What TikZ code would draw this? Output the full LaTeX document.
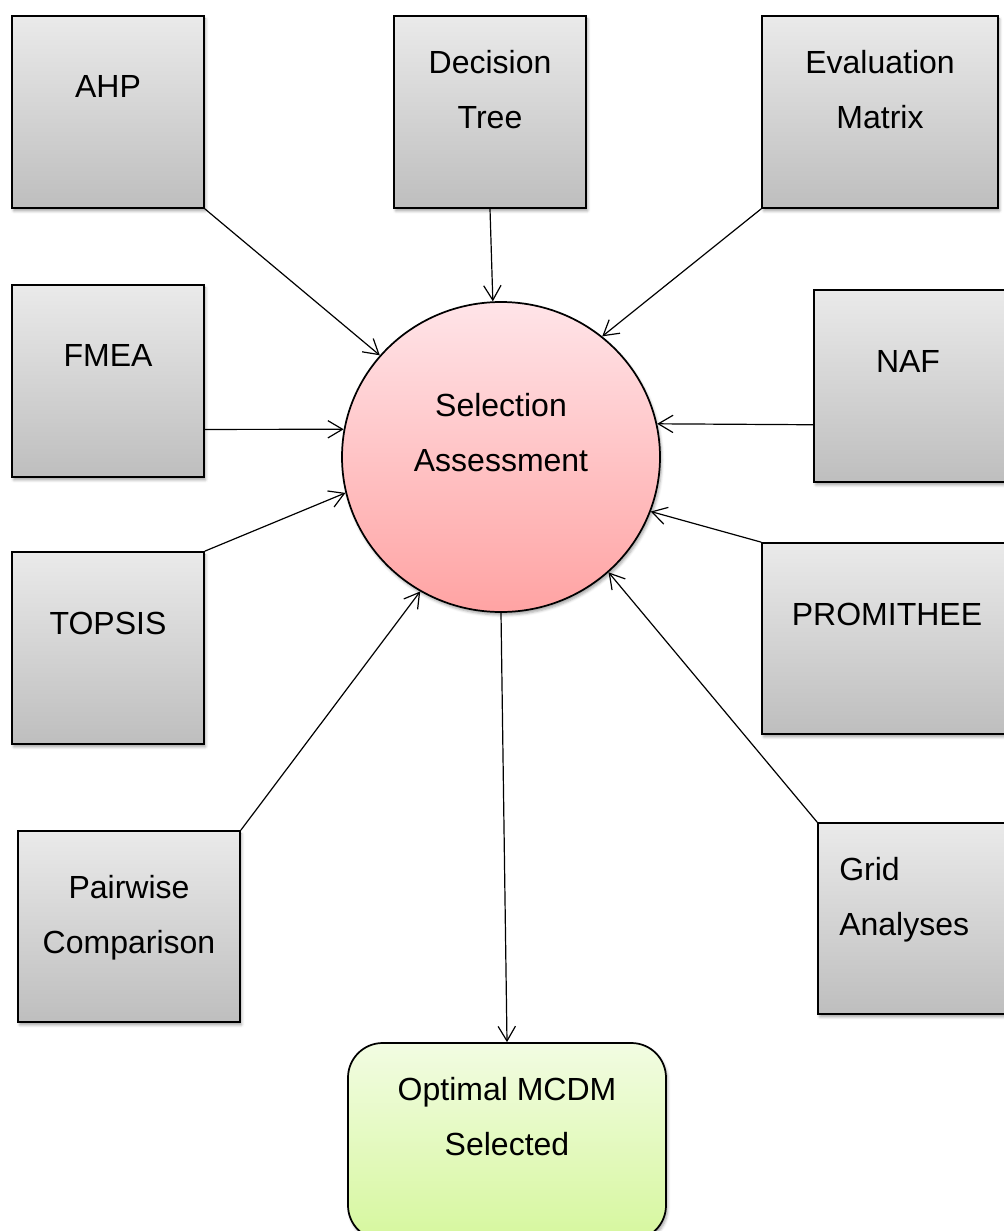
\documentclass[tikz,border=0pt]{standalone}
\usepackage{fontspec}
\setmainfont{Liberation Sans}
\usetikzlibrary{arrows.meta,shapes.geometric,shadows.blur,fit,calc}

\definecolor{boxtop}{RGB}{234,234,234}
\definecolor{boxbot}{RGB}{190,190,190}
\definecolor{seltop}{RGB}{255,228,232}
\definecolor{selbot}{RGB}{255,163,163}
\definecolor{opttop}{RGB}{242,252,226}
\definecolor{optbot}{RGB}{214,247,158}

\begin{document}
\begin{tikzpicture}[
  x=0.75pt, y=-0.75pt,
  softshadow/.style={blur shadow={shadow xshift=1.2pt, shadow yshift=-2.2pt,
      shadow blur radius=2pt, shadow opacity=35}},
  box/.style={draw=black, line width=1.3pt, inner sep=0pt,
      top color=boxtop, bottom color=boxbot, softshadow},
  selnode/.style={ellipse, draw=black, line width=1.3pt, inner sep=0pt,
      minimum width=238.5pt, minimum height=232.5pt,
      top color=seltop, bottom color=selbot, softshadow},
  optnode/.style={draw=black, line width=1.3pt, inner sep=0pt,
      rounded corners=26pt, top color=opttop, bottom color=optbot, softshadow},
  lbl/.style={font=\fontsize{24}{41.25}\selectfont, align=center,
      inner sep=0pt, anchor=north},
  conn/.style={line width=0.9pt, -{Straight Barb[length=11pt,width=13pt]}},
]
\useasboundingbox (0,0) rectangle (1003,1231);

% method boxes
\node[box, fit={(12,16) (204,208)}] (ahp) {};
\node[lbl] (ahp-t) at (108,75) {AHP};

\node[box, fit={(394,16) (586,208)}] (dt) {};
\node[lbl] (dt-t) at (490,50) {Decision\\Tree};

\node[box, fit={(762,16) (998,208)}] (em) {};
\node[lbl] (em-t) at (880,50) {Evaluation\\Matrix};

\node[box, fit={(12,285) (204,477)}] (fmea) {};
\node[lbl] (fmea-t) at (108,344) {FMEA};

\node[box, fit={(814,290) (1006,482)}] (naf) {};
\node[lbl] (naf-t) at (908,350) {NAF};

\node[box, fit={(12,552) (204,744)}] (topsis) {};
\node[lbl] (topsis-t) at (108,612) {TOPSIS};

\node[box, fit={(762,543) (1012,734)}] (prom) {};
\node[lbl] (prom-t) at (887,603) {PROMITHEE};

\node[box, fit={(18,831) (240,1022)}] (pw) {};
\node[lbl] (pw-t) at (129,875) {Pairwise\\Comparison};

\node[box, fit={(818,823) (1010,1014)}] (grid) {};
\node[lbl, anchor=north west, align=left] (grid-t) at (839,857) {Grid\\Analyses};

% central assessment
\node[selnode] (sel) at (501,457) {};
\node[lbl] (sel-t) at (501,393) {Selection\\Assessment};

% outcome
\node[optnode, fit={(348,1043) (666,1240)}] (opt) {};
\node[lbl] (opt-t) at (507,1077) {Optimal MCDM\\Selected};

% connectors
\draw[conn] (ahp.south east) -- (sel.140);
\draw[conn] (dt.south) -- (sel.93);
\draw[conn] (em.south west) -- (sel.50);
\draw[conn] ($(fmea.north east)!0.75!(fmea.south east)$) -- (sel.170);
\draw[conn] ($(naf.north west)!0.70!(naf.south west)$) -- (sel.12);
\draw[conn] (topsis.north east) -- (sel.193);
\draw[conn] (prom.north west) -- (sel.340);
\draw[conn] (pw.north east) -- (sel.239);
\draw[conn] (grid.north west) -- (sel.313);
\draw[conn] (sel.270) -- (opt.north);
\end{tikzpicture}
\end{document}
